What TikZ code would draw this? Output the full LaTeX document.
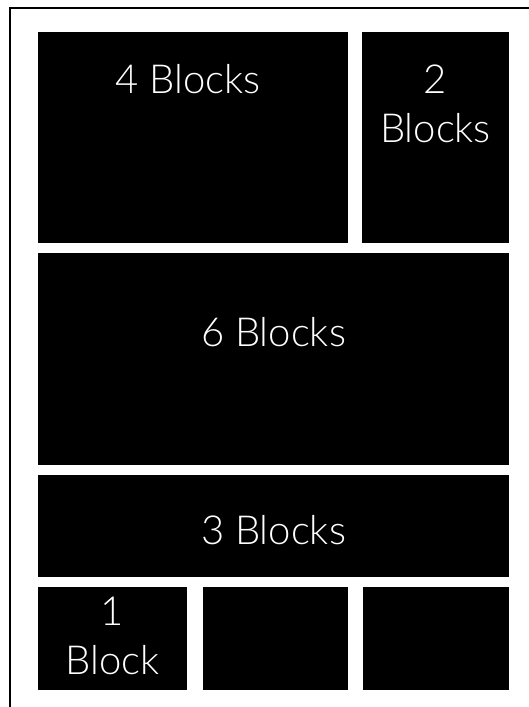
\documentclass[tikz,border=0pt]{standalone}
\usepackage{fontspec}
\setmainfont{Lato Light}
\usetikzlibrary{positioning}

\begin{document}
\begin{tikzpicture}[
x=1pt,y=-1pt,
blk/.style={rectangle,fill=black,inner sep=0pt,outer sep=0pt},
lbl/.style={text=white,align=center,anchor=base,font=\fontsize{40}{49}\selectfont}
]
\useasboundingbox (0,0) rectangle (529,707);
% outer frame
\draw[line width=1.8pt] (529,8) -- (10,8) -- (10,707);
% blocks
\node[blk,anchor=north west,minimum width=310pt,minimum height=211pt] (b4) at (38,32) {};
\node[blk,right=14pt of b4,minimum width=147pt,minimum height=211pt] (b2) {};
\node[blk,below right=10pt and 0pt of b4.south west,minimum width=471pt,minimum height=212pt] (b6) {};
\node[blk,below right=10pt and 0pt of b6.south west,minimum width=471pt,minimum height=102pt] (b3) {};
\node[blk,below right=10pt and 0pt of b3.south west,minimum width=149pt,minimum height=103pt] (b1) {};
\node[blk,right=16pt of b1,minimum width=145pt,minimum height=103pt] (bm) {};
\node[blk,right=15pt of bm,minimum width=146pt,minimum height=103pt] (br) {};
% labels (two-line ones sit on their last baseline)
\node[lbl] (t4) at ([xshift=-5pt,yshift=-61pt]b4.north) {4 Blocks};
\node[lbl] (t2) at ([yshift=-110pt]b2.north) {2\\Blocks};
\node[lbl] (t6) at ([yshift=-93pt]b6.north) {6 Blocks};
\node[lbl] (t3) at ([yshift=-69pt]b3.north) {3 Blocks};
\node[lbl] (t1) at ([yshift=-87pt]b1.north) {1\\Block};
\end{tikzpicture}
\end{document}
